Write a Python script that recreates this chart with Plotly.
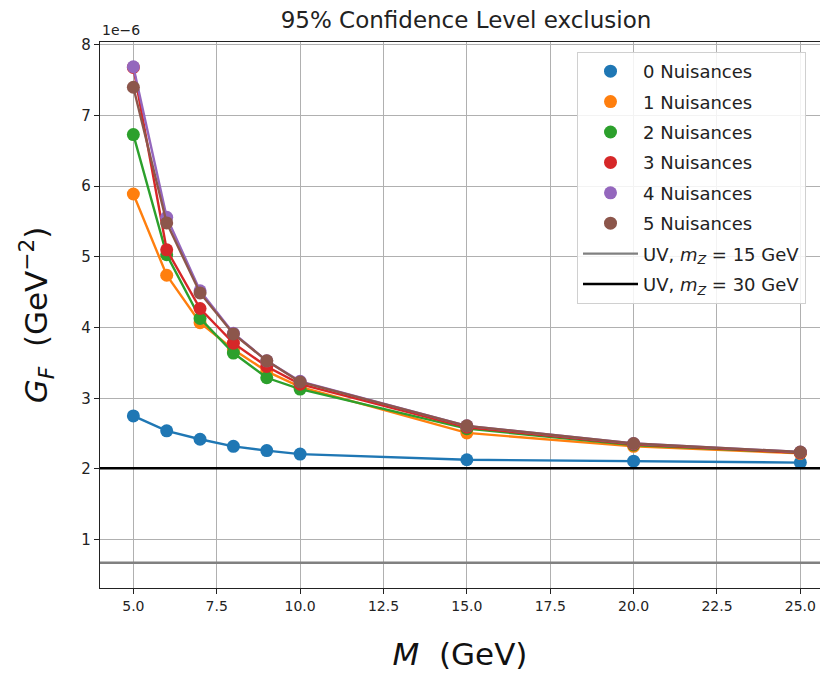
import plotly.graph_objects as go

# Data (G_F in units of 1e-6 GeV^-2)
masses = [5, 6, 7, 8, 9, 10, 15, 20, 25]
nuis0 = [2.75, 2.54, 2.42, 2.32, 2.26, 2.21, 2.13, 2.11, 2.09]
nuis1 = [5.89, 4.74, 4.07, 3.69, 3.38, 3.16, 2.51, 2.32, 2.22]
nuis2 = [6.73, 5.03, 4.13, 3.64, 3.29, 3.13, 2.57, 2.34, 2.23]
nuis3 = [7.68, 5.10, 4.27, 3.78, 3.45, 3.20, 2.59, 2.35, 2.23]
nuis4 = [7.69, 5.56, 4.52, 3.92, 3.53, 3.24, 2.61, 2.36, 2.24]
nuis5 = [7.40, 5.48, 4.49, 3.91, 3.53, 3.23, 2.61, 2.36, 2.24]
series_names = ["0 Nuisances", "1 Nuisances", "2 Nuisances", "3 Nuisances", "4 Nuisances", "5 Nuisances"]
uv_15 = 0.674
uv_30 = 2.01
uv_names = ["UV, <i>m<sub>Z</sub></i> = 15 GeV", "UV, <i>m<sub>Z</sub></i> = 30 GeV"]

colors = ["#1f77b4", "#ff7f0e", "#2ca02c", "#d62728", "#9467bd", "#8c564b"]
series = [nuis0, nuis1, nuis2, nuis3, nuis4, nuis5]

FONT = "DejaVu Sans"
XR = [4.0, 4.0 + 720 / 33.35]

fig = go.Figure()
for i, (vals, name) in enumerate(zip(series, series_names)):
    fig.add_trace(go.Scatter(x=masses, y=vals, mode="lines",
                             line=dict(color=colors[i], width=2.4),
                             showlegend=False, hoverinfo="skip"))
    fig.add_trace(go.Scatter(x=masses, y=vals, mode="markers", name=name,
                             marker=dict(color=colors[i], size=13),
                             legendgroup=f"g{i}"))

fig.add_trace(go.Scatter(x=XR, y=[uv_15, uv_15], mode="lines", name=uv_names[0],
                         line=dict(color="#808080", width=2.4), legendgroup="g6"))
fig.add_trace(go.Scatter(x=XR, y=[uv_30, uv_30], mode="lines", name=uv_names[1],
                         line=dict(color="black", width=2.6), legendgroup="g7"))

fig.update_layout(
    width=820, height=676,
    margin=dict(l=100, r=0, t=42, b=88, autoexpand=False),
    paper_bgcolor="white", plot_bgcolor="white",
    font=dict(family=FONT, color="#222222"),
    title=dict(text="95% Confidence Level exclusion", x=466 / 820, xref="container",
               xanchor="center", y=1 - 20 / 676, yref="container", yanchor="middle",
               font=dict(size=23, color="#222222")),
    legend=dict(x=(577 - 100) / 720, xanchor="left", y=(588 - 52) / 546, yanchor="top",
                bgcolor="rgba(255,255,255,0.85)", bordercolor="#d0d0d0", borderwidth=1,
                font=dict(size=18, family=FONT, color="#222222"),
                tracegroupgap=4, itemwidth=55),
    showlegend=True,
)
fig.update_xaxes(range=XR, showgrid=True, gridcolor="#b0b0b0", gridwidth=1,
                 tickvals=[5, 7.5, 10, 12.5, 15, 17.5, 20, 22.5, 25],
                 ticktext=["5.0", "7.5", "10.0", "12.5", "15.0", "17.5", "20.0", "22.5", "25.0"],
                 ticks="outside", ticklen=5, tickcolor="#222222",
                 showline=True, linecolor="#222222", linewidth=1.2, mirror=True,
                 tickfont=dict(size=14, color="#222222"), zeroline=False,
                 title=dict(text="<i>M</i>\u00a0\u00a0(GeV)", font=dict(size=31, color="#111111"), standoff=30))
fig.update_yaxes(range=[0.316, 8.04], showgrid=True, gridcolor="#b0b0b0", gridwidth=1,
                 tickvals=[1, 2, 3, 4, 5, 6, 7, 8],
                 ticks="outside", ticklen=5, tickcolor="#222222",
                 showline=True, linecolor="#222222", linewidth=1.2,
                 tickfont=dict(size=15, color="#222222"), zeroline=False,
                 title=dict(text="<i>G<sub>F</sub></i>\u00a0\u00a0(GeV<sup>−2</sup>)",
                            font=dict(size=31, color="#111111"), standoff=24))

fig.add_annotation(text="1e−6", xref="paper", yref="paper", x=0, y=1, xanchor="left",
                   yanchor="bottom", yshift=2, showarrow=False,
                   font=dict(size=14, color="#222222", family=FONT))

fig.write_html("out.html")
